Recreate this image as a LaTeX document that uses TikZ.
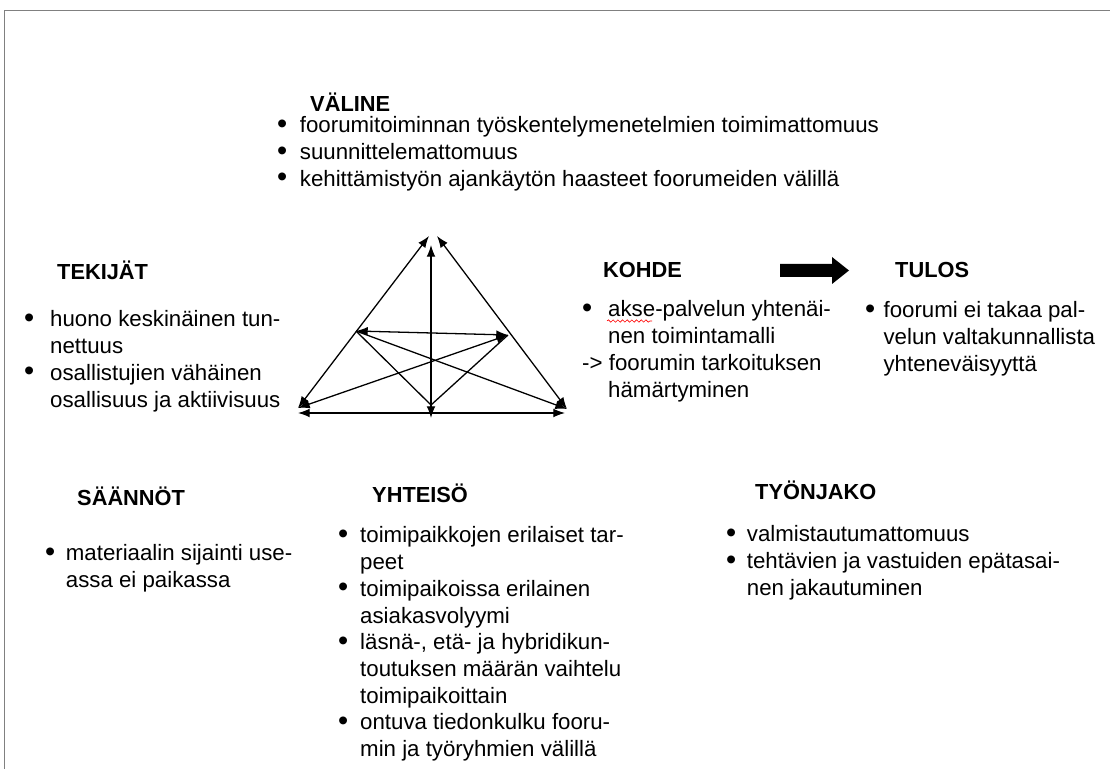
\documentclass[tikz,border=0pt]{standalone}
\usepackage{fontspec}
\setmainfont{Liberation Sans}
\usepackage{tikz}
\usetikzlibrary{arrows.meta,decorations.pathmorphing}
\definecolor{kehys}{RGB}{128,128,128}
\newcommand{\pallo}{\raisebox{-0.3pt}{\scalebox{1.3}{\textbullet}} &}
\tikzset{
  otsikko/.style={anchor=base west, inner sep=0pt, font=\bfseries\fontsize{18.6}{22.8}\selectfont},
  lista/.style={anchor=base west, inner sep=0pt, font=\fontsize{19}{22.8}\selectfont},
  nuoli/.style={line width=1.1pt, {Latex[length=10pt,width=7.5pt]}-{Latex[length=10pt,width=7.5pt]}},
  yksi/.style={line width=1.1pt, -{Latex[length=10pt,width=7.5pt]}},
  viiva/.style={line width=1.1pt}
}

\begin{document}
\begin{tikzpicture}[x=0.03cm, y=-0.03cm]
\useasboundingbox (0, 0) rectangle (1110, 769);
%\draw[help lines, step=50] (0, 0) grid (1110, 769);
\draw [kehys] (4, 769) -- (4, 10) -- (1110, 10);

% VALINE
\node [otsikko] (valine) at (310, 112) {VÄLINE};
\node [lista] (valinelista) at (277, 133) {\begin{tabular}[t]{@{}p{0.68cm}@{}l@{}}
\pallo foorumitoiminnan työskentelymenetelmien toimimattomuus\\
\pallo suunnittelemattomuus\\
\pallo kehittämistyön ajankäytön haasteet foorumeiden välillä
\end{tabular}};

% TEKIJAT
\node [otsikko] (tekijat) at (57, 280) {TEKIJÄT};
\node [lista] (tekijatlista) at (24, 327) {\begin{tabular}[t]{@{}p{0.78cm}@{}l@{}}
\pallo huono keskinäinen tun-\\
& nettuus\\
\pallo osallistujien vähäinen\\
& osallisuus ja aktiivisuus
\end{tabular}};

% KOHDE
\node [otsikko] (kohde) at (603, 278) {KOHDE};
\node [lista] (kohdelista) at (582, 317) {\begin{tabular}[t]{@{}p{0.78cm}@{}l@{}}
\pallo akse-palvelun yhtenäi-\\
& nen toimintamalli\\
\multicolumn{2}{@{}l@{}}{-> foorumin tarkoituksen}\\
& hämärtyminen
\end{tabular}};
\draw [red, line width=0.5pt, decorate, decoration={snake, amplitude=1pt, segment length=4pt}]
  (607, 321) -- (652, 321);

% iso nuoli
\fill [black] (780, 264) -- (832, 264) -- (832, 257) -- (849, 270.5)
  -- (832, 284) -- (832, 277) -- (780, 277) -- cycle;

% TULOS
\node [otsikko] (tulos) at (895, 278) {TULOS};
\node [lista] (tuloslista) at (865, 318) {\begin{tabular}[t]{@{}p{0.55cm}@{}l@{}}
\pallo foorumi ei takaa pal-\\
& velun valtakunnallista\\
& yhteneväisyyttä
\end{tabular}};

% SAANNOT
\node [otsikko] (saannot) at (77, 506) {SÄÄNNÖT};
\node [lista] (saannotlista) at (45, 561) {\begin{tabular}[t]{@{}p{0.62cm}@{}l@{}}
\pallo materiaalin sijainti use-\\
& assa ei paikassa
\end{tabular}};

% YHTEISO
\node [otsikko] (yhteiso) at (372, 503) {YHTEISÖ};
\node [lista] (yhteisolista) at (338, 543) {\begin{tabular}[t]{@{}p{0.66cm}@{}l@{}}
\pallo toimipaikkojen erilaiset tar-\\
& peet\\
\pallo toimipaikoissa erilainen\\
& asiakasvolyymi\\
\pallo läsnä-, etä- ja hybridikun-\\
& toutuksen määrän vaihtelu\\
& toimipaikoittain\\
\pallo ontuva tiedonkulku fooru-\\
& min ja työryhmien välillä
\end{tabular}};

% TYONJAKO
\node [otsikko] (tyonjako) at (755, 500) {TYÖNJAKO};
\node [lista] (tyonjakolista) at (726, 542) {\begin{tabular}[t]{@{}p{0.62cm}@{}l@{}}
\pallo valmistautumattomuus\\
\pallo tehtävien ja vastuiden epätasai-\\
& nen jakautuminen
\end{tabular}};

% kolmio
\coordinate (huippuV) at (429, 236);
\coordinate (huippuO) at (437, 236);
\coordinate (huippuK) at (431, 245);
\coordinate (alaV) at (298, 408);
\coordinate (alaO) at (567, 409);
\coordinate (keskiV) at (356, 331);
\coordinate (keskiO) at (508, 335);
\coordinate (alaK) at (431, 405);
\coordinate (pohjaV) at (298, 413);
\coordinate (pohjaO) at (565, 413);
\coordinate (pohjaK) at (431, 418);

\draw [nuoli] (alaV) -- (huippuV);
\draw [nuoli] (alaO) -- (huippuO);
\draw [nuoli] (pohjaK) -- (huippuK);
\draw [nuoli] (pohjaV) -- (pohjaO);
\draw [nuoli] (keskiV) -- (keskiO);
\draw [nuoli] (alaV) -- (keskiO);
\draw [yksi] (keskiV) -- (alaO);
\draw [viiva] (keskiV) -- (alaK) -- (keskiO);
\end{tikzpicture}
\end{document}
